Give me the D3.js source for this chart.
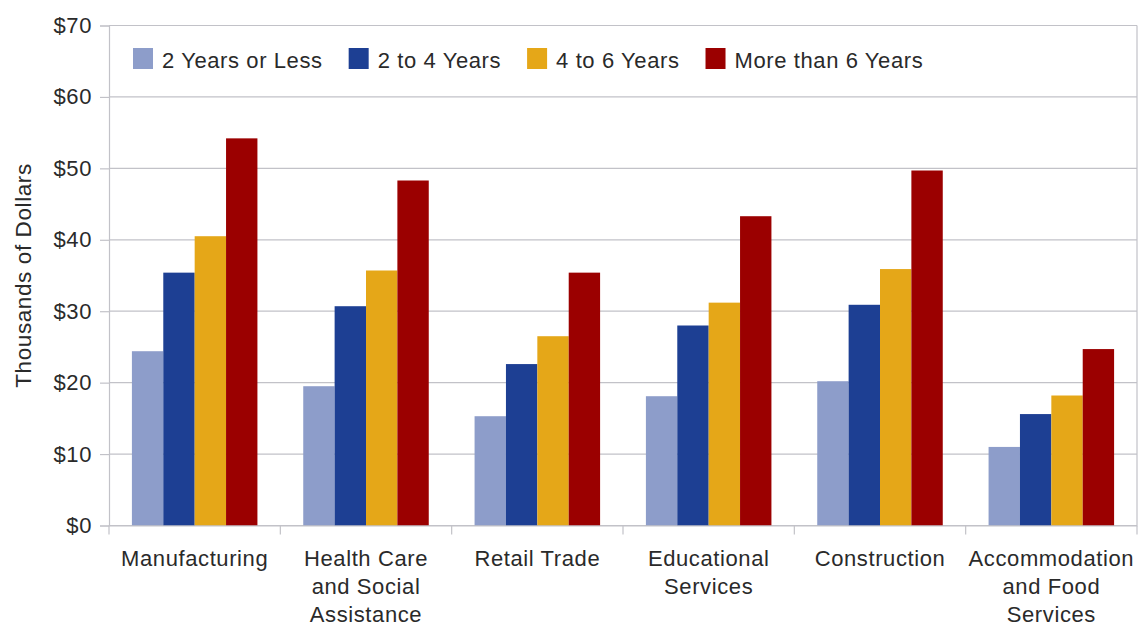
<!DOCTYPE html>
<html>
<head>
<meta charset="utf-8">
<script src="https://cdn.jsdelivr.net/npm/d3@7"></script>
<style>
  body { margin: 0; background: #fff; }
  text { font-family: "Liberation Sans", Arial, sans-serif; fill: #2a2a2a; letter-spacing: 0.6px; }
</style>
</head>
<body>
<script>
const width = 1143
const height = 625
const margin = { top: 25.5, right: 6, bottom: 99.5, left: 109 }

// data
const industries = ['Manufacturing', 'Health Care\nand Social\nAssistance', 'Retail Trade', 'Educational\nServices', 'Construction', 'Accommodation\nand Food\nServices']
const tenures = ['2 Years or Less', '2 to 4 Years', '4 to 6 Years', 'More than 6 Years']
const twoOrLess = [24.4, 19.5, 15.3, 18.1, 20.2, 11.0]
const twoToFour = [35.4, 30.7, 22.6, 28.0, 30.9, 15.6]
const fourToSix = [40.5, 35.7, 26.5, 31.2, 35.9, 18.2]
const moreThanSix = [54.2, 48.3, 35.4, 43.3, 49.7, 24.7]
const yTicks = [0, 10, 20, 30, 40, 50, 60, 70]
const colors = ['#8d9dca', '#1d3f93', '#e5a718', '#9b0000']

const series = [twoOrLess, twoToFour, fourToSix, moreThanSix]
const rows = industries.map((name, i) => ({ name, values: series.map(s => s[i]) }))

const svg = d3.select('body')
  .append('svg')
  .attr('width', width)
  .attr('height', height)

const x0 = d3.scaleBand()
  .domain(industries)
  .range([margin.left, width - margin.right])
  .padding(0)

const x1 = d3.scaleBand()
  .domain(d3.range(tenures.length))
  .range([0, x0.bandwidth()])
  .paddingInner(0)
  .paddingOuter(0.73)

const y = d3.scaleLinear()
  .domain([0, 70])
  .range([height - margin.bottom, margin.top])

const gridColor = '#c2c2c8'

// gridlines
svg.append('g')
  .selectAll('line')
  .data(yTicks)
  .join('line')
  .attr('x1', margin.left)
  .attr('x2', width - margin.right)
  .attr('y1', d => y(d))
  .attr('y2', d => y(d))
  .attr('stroke', gridColor)
  .attr('stroke-width', 1.2)

// right border
svg.append('line')
  .attr('x1', width - margin.right)
  .attr('x2', width - margin.right)
  .attr('y1', y(70))
  .attr('y2', y(0))
  .attr('stroke', gridColor)
  .attr('stroke-width', 1.2)

// y axis
const yAxis = d3.axisLeft(y)
  .tickValues(yTicks)
  .tickFormat(d => '$' + d)
  .tickSize(9)
  .tickPadding(8)

const yg = svg.append('g')
  .attr('transform', `translate(${margin.left},0)`)
  .call(yAxis)
yg.select('.domain').attr('stroke', gridColor).attr('stroke-width', 1.2)
yg.selectAll('.tick line').attr('stroke', gridColor).attr('stroke-width', 1.2)
yg.selectAll('text').attr('font-size', '22px').attr('fill', '#2a2a2a')

// bars
svg.append('g')
  .selectAll('g')
  .data(rows)
  .join('g')
  .attr('transform', d => `translate(${x0(d.name)},0)`)
  .selectAll('rect')
  .data(d => d.values)
  .join('rect')
  .attr('x', (d, i) => x1(i))
  .attr('width', x1.bandwidth())
  .attr('y', d => y(d))
  .attr('height', d => y(0) - y(d))
  .attr('fill', (d, i) => colors[i])

// x axis
const xAxis = d3.axisBottom(x0)
  .tickSize(0)
  .tickSizeOuter(0)
  .tickPadding(0)

const xg = svg.append('g')
  .attr('transform', `translate(0,${y(0)})`)
  .call(xAxis)
xg.select('.domain').attr('stroke', gridColor).attr('stroke-width', 1.2)
xg.selectAll('.tick text')
  .attr('font-size', '22px')
  .attr('fill', '#2a2a2a')
  .each(function (d) {
    const t = d3.select(this)
    t.text(null)
    d.split('\n').forEach((line, i) => {
      t.append('tspan')
        .attr('x', 0)
        .attr('y', 40 + i * 28)
        .text(line)
    })
  })
  .attr('dy', null)

// tick marks at band edges
xg.selectAll('.edge')
  .data(industries.map(d => x0(d)).concat([x0.range()[1]]))
  .join('line')
  .attr('class', 'edge')
  .attr('x1', d => d)
  .attr('x2', d => d)
  .attr('y1', 0)
  .attr('y2', 9)
  .attr('stroke', gridColor)
  .attr('stroke-width', 1.2)

// y axis title
svg.append('text')
  .text('Thousands of Dollars')
  .attr('transform', `translate(31,${(y(0) + y(70)) / 2}) rotate(-90)`)
  .attr('text-anchor', 'middle')
  .attr('font-size', '22.5px')

// legend
const legend = svg.append('g')
let lx = 133
tenures.forEach((name, i) => {
  legend.append('rect')
    .attr('x', lx)
    .attr('y', 48)
    .attr('width', 20)
    .attr('height', 21)
    .attr('fill', colors[i])
  const t = legend.append('text')
    .attr('x', lx + 29)
    .attr('y', 68)
    .attr('font-size', '22px')
    .text(name)
  lx += 29 + t.node().getComputedTextLength() + 26
})
</script>
</body>
</html>
